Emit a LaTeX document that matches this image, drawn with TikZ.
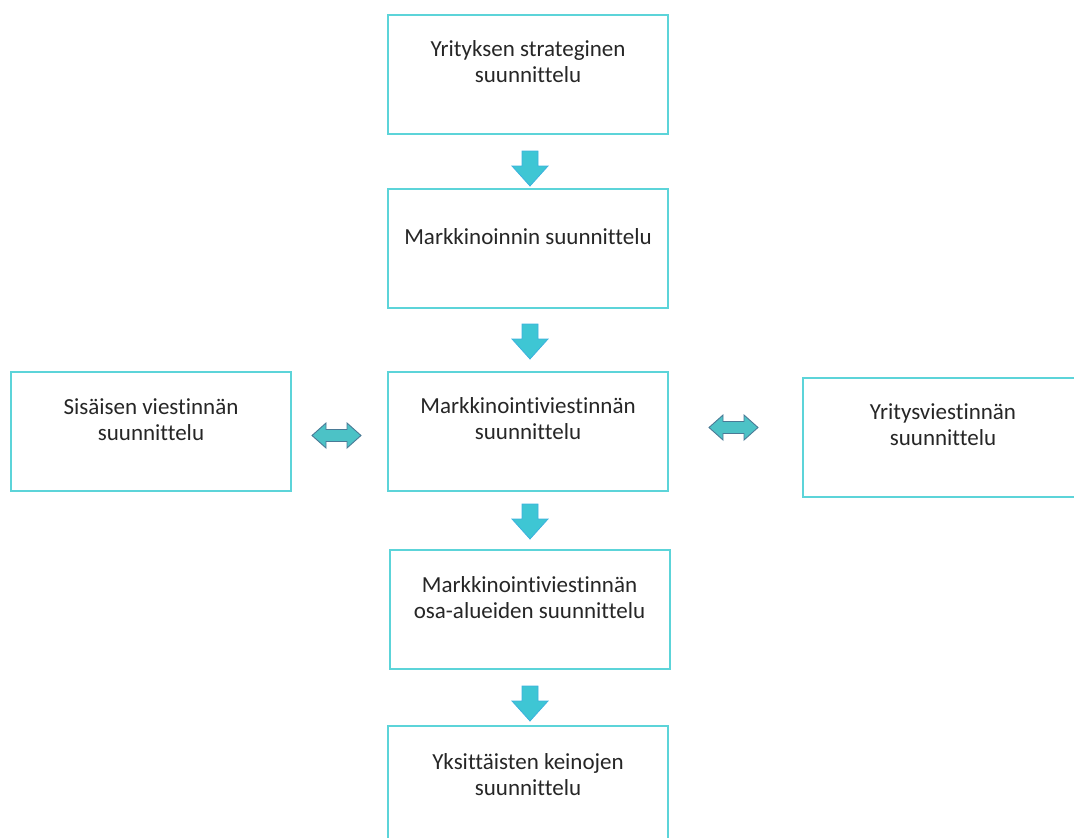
\documentclass[tikz,border=0pt]{standalone}
\usepackage{fontspec}
\setmainfont{Carlito}[Ligatures={NoCommon}]
\usetikzlibrary{calc}
\definecolor{boxline}{RGB}{92,212,217}
\definecolor{txt}{RGB}{38,38,38}
\definecolor{downfill}{RGB}{62,198,212}
\definecolor{downedge}{RGB}{60,178,222}
\definecolor{dblfill}{RGB}{76,194,198}
\definecolor{dbledge}{RGB}{74,122,150}
\begin{document}
\begin{tikzpicture}[x=1pt,y=-1pt,
  box/.style={draw=boxline, line width=2pt, rectangle, minimum width=280pt,
    minimum height=119pt, inner sep=0pt, fill=white},
  lbl/.style={anchor=north, inner sep=0pt, align=center, text=txt,
    font=\fontsize{23}{26}\selectfont},
  downarr/.pic={\filldraw[fill=downfill, draw=downedge, line width=0.8pt, line join=miter]
    (-8,0) -- (8,0) -- (8,15) -- (18,15) -- (0,35) -- (-18,15) -- (-8,15) -- cycle;},
  lrarr/.pic={\filldraw[fill=dblfill, draw=dbledge, line width=0.9pt, line join=miter]
    (-24.5,0) -- (-10.5,-12.5) -- (-10.5,-6) -- (10.5,-6) -- (10.5,-12.5) -- (24.5,0)
    -- (10.5,12.5) -- (10.5,6) -- (-10.5,6) -- (-10.5,12.5) -- cycle;}]
\clip (0,0) rectangle (1074,838);
\useasboundingbox (0,0) rectangle (1074,838);

% planning levels, top to bottom
\node[box] (b1) at (528,74.5) {};
\node[box] (b2) at (528,248.5) {};
\node[box] (b3) at (528,431.5) {};
\node[box] (b4) at (529.5,609.5) {};
\node[box] (b5) at (528,785.5) {};
% side boxes beside the central level
\node[box] (bl) at (151,431.5) {};
\node[box] (br) at (943,437.5) {};

\node[lbl] (t1) at ($(b1.north)+(0,26)$) {Yrityksen strateginen\\suunnittelu};
\node[lbl] (t2) at ($(b2.north)+(0,40)$) {Markkinoinnin suunnittelu};
\node[lbl] (t3) at ($(b3.north)+(0,26)$) {Markkinointiviestinnän\\suunnittelu};
\node[lbl] (t4) at ($(b4.north)+(0,27)$) {Markkinointiviestinnän\\osa-alueiden suunnittelu};
\node[lbl] (t5) at ($(b5.north)+(0,28)$) {Yksittäisten keinojen\\suunnittelu};
\node[lbl] (tl) at ($(bl.north)+(0,27)$) {Sisäisen viestinnän\\suunnittelu};
\node[lbl] (tr) at ($(br.north)+(0,26)$) {Yritysviestinnän\\suunnittelu};

% block arrows between the levels
\pic at ($(b1.south)+(2,16)$) {downarr};
\pic at ($(b2.south)+(2,15)$) {downarr};
\pic at ($(b3.south)+(2,12)$) {downarr};
\pic at ($(b4.south)+(0.5,16)$) {downarr};
% two-way arrows to the side boxes
\pic at ($(b3.west)+(-50.5,4)$) {lrarr};
\pic at ($(b3.east)+(64.5,-4)$) {lrarr};
\end{tikzpicture}
\end{document}
